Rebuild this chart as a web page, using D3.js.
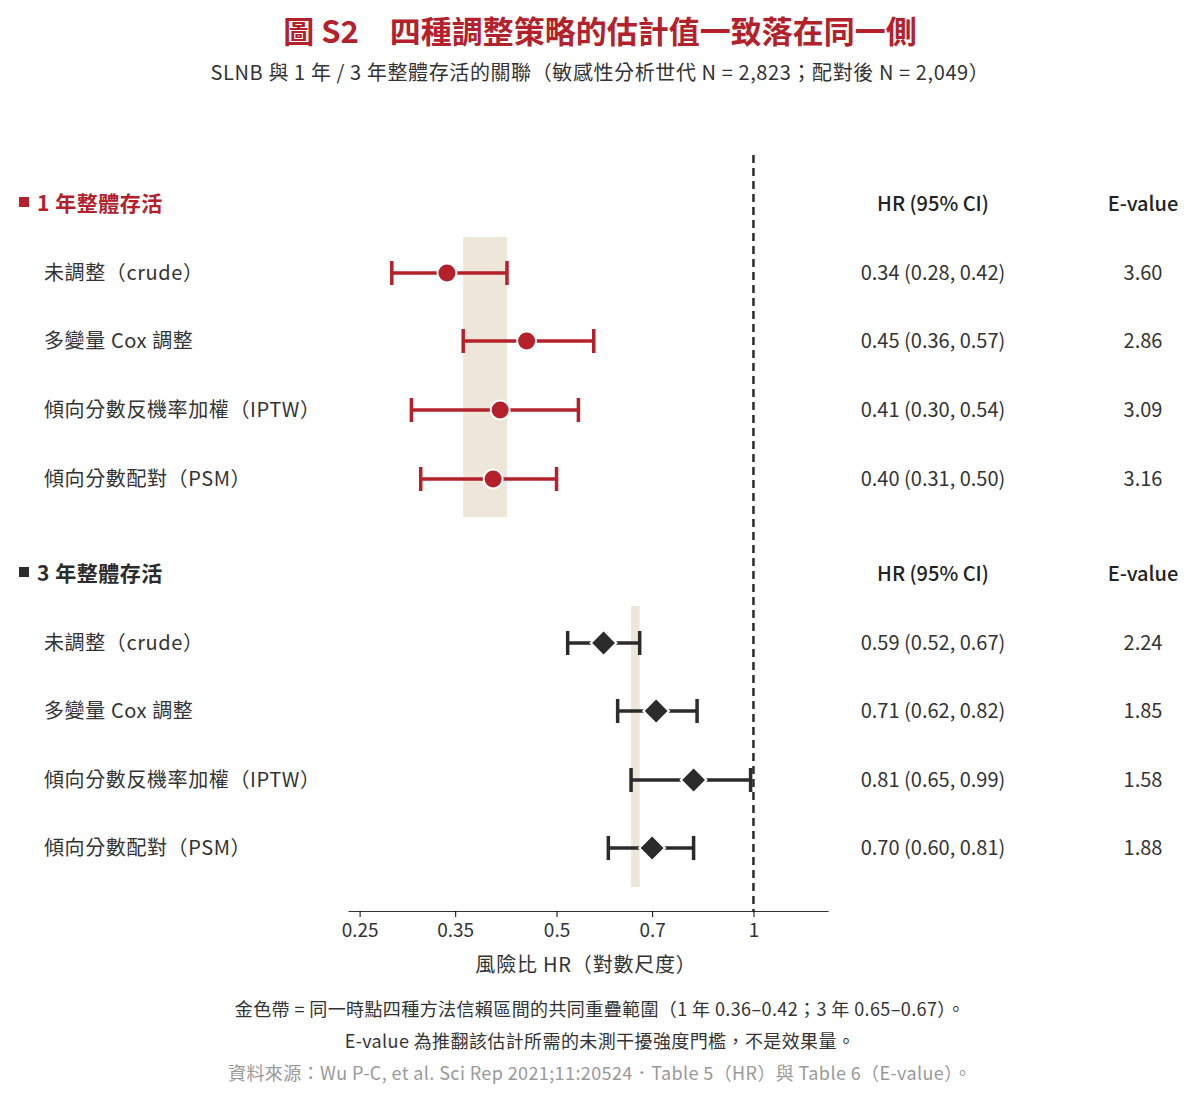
<!DOCTYPE html>
<html><head><meta charset="utf-8">
<script src="https://cdn.jsdelivr.net/npm/d3@7"></script>
<style>body{margin:0;background:#fff}text{font-family:"Noto Sans CJK TC","Noto Sans",sans-serif}</style>
</head><body><svg id="c" width="1200" height="1104"></svg>
<script>
// data
const groups = ["1 年整體存活", "3 年整體存活"];
const methods = ["未調整（crude）", "多變量 Cox 調整", "傾向分數反機率加權（IPTW）", "傾向分數配對（PSM）"];
const hr1 = [0.34, 0.45, 0.41, 0.40];
const lo1 = [0.28, 0.36, 0.30, 0.31];
const hi1 = [0.42, 0.57, 0.54, 0.50];
const ev1 = ["3.60", "2.86", "3.09", "3.16"];
const hr3 = [0.59, 0.71, 0.81, 0.70];
const lo3 = [0.52, 0.62, 0.65, 0.60];
const hi3 = [0.67, 0.82, 0.99, 0.81];
const ev3 = ["2.24", "1.85", "1.58", "1.88"];
const bands = [[0.36, 0.42], [0.65, 0.67]];
const ticks = [0.25, 0.35, 0.5, 0.7, 1];

const svg = d3.select("#c");
const x = d3.scaleLog().domain([0.24, 1.3]).range([348, 828]);
const red = "#b5212b", dark = "#2b2b2b";
const headY = [203, 573], rowY = [[273, 341, 410, 479], [643, 711, 780, 848]];
const bandY = [[237, 517], [606, 887]];

svg.append("text").attr("x", 600).attr("y", 43).attr("text-anchor", "middle")
  .attr("font-size", 31).attr("font-weight", 700).attr("fill", red).text("圖 S2　四種調整策略的估計值一致落在同一側");
svg.append("text").attr("x", 600).attr("y", 80).attr("text-anchor", "middle")
  .attr("font-size", 20).attr("fill", "#333").attr("letter-spacing", 0.6)
  .text("SLNB 與 1 年 / 3 年整體存活的關聯（敏感性分析世代 N = 2,823；配對後 N = 2,049）");

bands.forEach((b, g) => {
  svg.append("rect").attr("x", x(b[0])).attr("width", x(b[1]) - x(b[0]))
    .attr("y", bandY[g][0]).attr("height", bandY[g][1] - bandY[g][0]).attr("fill", "#efe6da");
});

svg.append("line").attr("x1", x(1)).attr("x2", x(1)).attr("y1", 155).attr("y2", 911)
  .attr("stroke", dark).attr("stroke-width", 2.5).attr("stroke-dasharray", "8,5");

const ax = svg.append("g").attr("transform", "translate(0,911)")
  .call(d3.axisBottom(x).tickValues(ticks).tickFormat(d => d).tickSize(6).tickSizeOuter(0));
ax.select(".domain").attr("stroke", "#333");
ax.selectAll("text").attr("font-size", 19).attr("fill", "#333").attr("dy", "0.9em");
svg.append("text").attr("x", 586).attr("y", 972).attr("text-anchor", "middle")
  .attr("font-size", 20).attr("fill", "#333").attr("letter-spacing", 0.8).text("風險比 HR（對數尺度）");

const series = [[hr1, lo1, hi1, ev1], [hr3, lo3, hi3, ev3]];
groups.forEach((gname, g) => {
  const col = g === 0 ? red : dark;
  svg.append("rect").attr("x", 19).attr("y", headY[g] - 6).attr("width", 10).attr("height", 10).attr("fill", col);
  svg.append("text").attr("x", 37).attr("y", headY[g] + 8).attr("font-size", 21).attr("font-weight", 600)
    .attr("fill", col).attr("letter-spacing", 0.5).text(gname);
  svg.append("text").attr("x", 933).attr("y", headY[g] + 8).attr("text-anchor", "middle").attr("font-size", 20)
    .attr("font-weight", 500).attr("fill", "#222").text("HR (95% CI)");
  svg.append("text").attr("x", 1143).attr("y", headY[g] + 8).attr("text-anchor", "middle").attr("font-size", 20)
    .attr("font-weight", 500).attr("fill", "#222").text("E-value");
  const [hr, lo, hi, ev] = series[g];
  methods.forEach((m, i) => {
    const y = rowY[g][i];
    svg.append("text").attr("x", 44).attr("y", y + 7).attr("font-size", 20).attr("fill", "#333")
      .attr("letter-spacing", 0.6).text(m);
    svg.append("line").attr("x1", x(lo[i])).attr("x2", x(hi[i])).attr("y1", y).attr("y2", y)
      .attr("stroke", col).attr("stroke-width", 3.5);
    [lo[i], hi[i]].forEach(v => svg.append("line").attr("x1", x(v)).attr("x2", x(v))
      .attr("y1", y - 12).attr("y2", y + 12).attr("stroke", col).attr("stroke-width", 3.5));
    if (g === 0) {
      svg.append("circle").attr("cx", x(hr[i])).attr("cy", y).attr("r", 9.5)
        .attr("fill", col).attr("stroke", "#fff").attr("stroke-width", 2);
    } else {
      svg.append("path").attr("d", d3.symbol(d3.symbolDiamond2, 420)())
        .attr("transform", `translate(${x(hr[i])},${y})`).attr("fill", col).attr("stroke", "#fff").attr("stroke-width", 2);
    }
    svg.append("text").attr("x", 933).attr("y", y + 7).attr("text-anchor", "middle").attr("font-size", 20)
      .attr("fill", "#333").text(`${hr[i].toFixed(2)} (${lo[i].toFixed(2)}, ${hi[i].toFixed(2)})`);
    svg.append("text").attr("x", 1143).attr("y", y + 7).attr("text-anchor", "middle").attr("font-size", 20)
      .attr("fill", "#333").text(ev[i]);
  });
});

const notes = [
  ["金色帶 = 同一時點四種方法信賴區間的共同重疊範圍（1 年 0.36–0.42；3 年 0.65–0.67）。", "#333", 1016],
  ["E-value 為推翻該估計所需的未測干擾強度門檻，不是效果量。", "#333", 1048],
  ["資料來源：Wu P-C, et al. Sci Rep 2021;11:20524．Table 5（HR）與 Table 6（E-value）。", "#999", 1080]
];
notes.forEach(n => svg.append("text").attr("x", 600).attr("y", n[2]).attr("text-anchor", "middle")
  .attr("font-size", 18).attr("fill", n[1]).attr("letter-spacing", 0.4).text(n[0]));
</script></body></html>
